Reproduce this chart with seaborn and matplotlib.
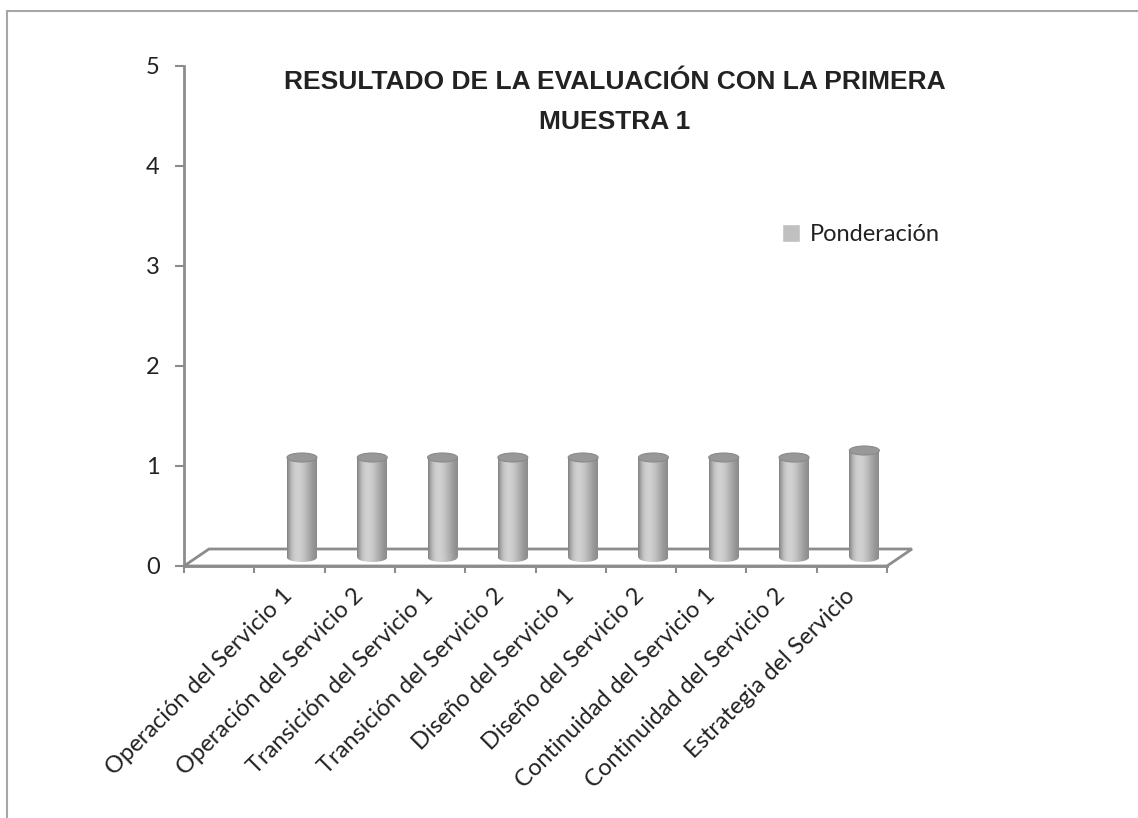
import matplotlib
matplotlib.use("Agg")
import numpy as np
import pandas as pd
import seaborn as sns
import matplotlib.pyplot as plt
from matplotlib.patches import Ellipse, Polygon, Rectangle
from matplotlib.lines import Line2D

# data
categories = [
    "Operación del Servicio 1", "Operación del Servicio 2",
    "Transición del Servicio 1", "Transición del Servicio 2",
    "Diseño del Servicio 1", "Diseño del Servicio 2",
    "Continuidad del Servicio 1", "Continuidad del Servicio 2",
    "Estrategia del Servicio",
]
values = [1.0, 1.0, 1.0, 1.0, 1.0, 1.0, 1.0, 1.0, 1.07]
y_ticks = [0, 1, 2, 3, 4, 5]
series_name = "Ponderación"
title_lines = ["RESULTADO DE LA EVALUACIÓN CON LA PRIMERA", "MUESTRA 1"]

df = pd.DataFrame({"Categoria": categories, "Valor": values})
order = [""] + categories  # first slot of the category axis is left empty

# style
sns.set_style("white")
plt.rcParams["font.family"] = ["Lato", "DejaVu Sans"]
axis_gray = "#8c8c8c"
text_col = "#222222"

W, H = 1138, 818
fig = plt.figure(figsize=(W / 100, H / 100), dpi=100)

# plot area in pixels (front plane of the 3d box)
left_px, right_px, top_px, bottom_px = 184, 887, 66, 566
ax = fig.add_axes([left_px / W, 1 - bottom_px / H,
                   (right_px - left_px) / W, (bottom_px - top_px) / H])

cat_px = (right_px - left_px) / len(order)
depth_dx = 25 / cat_px      # 3d depth offset, data units
depth_dy = 17 / 100
bar_w = 30 / cat_px
ell_h = 0.09

sns.barplot(data=df, x="Categoria", y="Valor", order=order, color="#c0c0c0",
            saturation=1, width=bar_w, label=series_name, ax=ax, zorder=3)

ax.set_xlim(-0.5, len(order) - 0.5)
ax.set_ylim(0, 5)

# floor of the 3d box
floor = Polygon([(-0.5, 0), (len(order) - 0.5, 0),
                 (len(order) - 0.5 + depth_dx, depth_dy), (-0.5 + depth_dx, depth_dy)],
                closed=True, fill=False, edgecolor=axis_gray, linewidth=2, clip_on=False, zorder=1)
ax.add_patch(floor)

# turn flat bars into shaded cylinders
shade = np.array([0.50, 0.62, 0.72, 0.78, 0.81, 0.82, 0.81, 0.79, 0.76, 0.72,
                  0.68, 0.64, 0.60, 0.57, 0.55])
grad = np.interp(np.linspace(0, 1, 200), np.linspace(0, 1, len(shade)), shade)[None, :]
bars = [p for p in ax.patches if isinstance(p, Rectangle) and np.isfinite(p.get_height())
        and p.get_height() > 0]
for p in bars:
    x0 = p.get_x() + depth_dx / 2
    h = p.get_height()
    y0 = depth_dy / 2
    p.set_x(x0)
    p.set_y(y0)
    p.set_alpha(0)
    # bottom rounded part
    bot = Ellipse((x0 + bar_w / 2, y0), bar_w, ell_h, facecolor="none", edgecolor="none",
                  clip_on=False, zorder=3)
    ax.add_patch(bot)
    im = ax.imshow(grad, cmap="gray", vmin=0, vmax=1, aspect="auto", zorder=3,
                   extent=(x0, x0 + bar_w, y0 - ell_h, y0 + h), interpolation="bilinear")
    body = Rectangle((x0, y0), bar_w, h, facecolor="none", edgecolor="none", zorder=3)
    ax.add_patch(body)
    im.set_clip_path(body)
    im2 = ax.imshow(grad, cmap="gray", vmin=0, vmax=1, aspect="auto", zorder=3,
                    extent=(x0, x0 + bar_w, y0 - ell_h, y0 + h), interpolation="bilinear")
    im2.set_clip_path(bot)
    # top cap
    ax.add_patch(Ellipse((x0 + bar_w / 2, y0 + h), bar_w, ell_h, facecolor="#989898",
                         edgecolor="#8a8a8a", linewidth=0.8, zorder=4))

ax.set_xlim(-0.5, len(order) - 0.5)
ax.set_ylim(0, 5)

# axes look
for s in ["top", "right"]:
    ax.spines[s].set_visible(False)
for s in ["left", "bottom"]:
    ax.spines[s].set_color(axis_gray)
    ax.spines[s].set_linewidth(2)
ax.set_xlabel("")
ax.set_ylabel("")
ax.set_yticks(y_ticks)
ax.tick_params(axis="y", direction="out", length=6.5, width=1.5, color=axis_gray,
               labelsize=17, pad=11, labelcolor=text_col, left=True)
ax.set_xticks(range(len(order)))
ax.set_xticklabels(order, rotation=45, ha="right", va="center", rotation_mode="anchor")
ax.set_xticks(np.arange(-0.5, len(order)), minor=True)
ax.tick_params(axis="x", which="major", length=0, labelsize=17, pad=19, labelcolor=text_col)
ax.tick_params(axis="x", which="minor", direction="out", length=5, width=1.5,
               color=axis_gray, bottom=True)
ax.grid(False)

# legend
leg = ax.legend(loc="upper left", bbox_to_anchor=(761 / W, 1 - 203 / H),
                bbox_transform=fig.transFigure, frameon=False, fontsize=17,
                handlelength=0.75, handleheight=0.75, handletextpad=0.4)
for hnd in leg.legend_handles:
    hnd.set_alpha(1)
    hnd.set_facecolor("#c0c0c0")
for t in leg.get_texts():
    t.set_color(text_col)

# title
title_font = ["Liberation Sans Narrow", "Liberation Sans"]
fig.text(615 / W, 1 - 82 / H, title_lines[0], ha="center", va="center", fontsize=19,
         fontweight="bold", family=title_font, color=text_col)
fig.text(615 / W, 1 - 122 / H, title_lines[1], ha="center", va="center", fontsize=19,
         fontweight="bold", family=title_font, color=text_col)

# chart area border (only top and left edges fall inside the picture)
fig.add_artist(Line2D([7 / W, 7 / W], [0, 1 - 11 / H], color="#a6a6a6", linewidth=1.5))
fig.add_artist(Line2D([7 / W, 1], [1 - 11 / H, 1 - 11 / H], color="#a6a6a6", linewidth=1.5))

fig.savefig("out.png", dpi=100, facecolor="white")
